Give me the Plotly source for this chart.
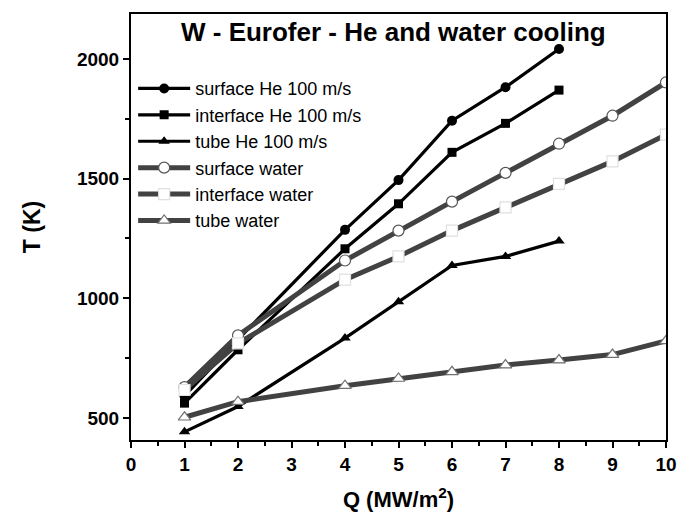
import plotly.graph_objects as go

q_he = [1, 2, 4, 5, 6, 7, 8]
q_water = [1, 2, 4, 5, 6, 7, 8, 9, 10]

surface_he = [592, 828, 1286, 1494, 1742, 1882, 2042]
interface_he = [562, 785, 1207, 1395, 1610, 1731, 1870]
tube_he = [442, 548, 834, 986, 1137, 1175, 1239]
surface_water = [629, 845, 1158, 1283, 1404, 1524, 1646, 1763, 1902]
interface_water = [617, 812, 1078, 1175, 1283, 1380, 1478, 1572, 1684]
tube_water = [503, 568, 635, 665, 693, 721, 742, 765, 822]

names = ["surface He 100 m/s", "interface He 100 m/s", "tube He 100 m/s",
         "surface water", "interface water", "tube water"]

FONT = "Liberation Sans, Arial, sans-serif"
fig = go.Figure()

he_series = [(surface_he, "circle"), (interface_he, "square"), (tube_he, "triangle-up")]
for (vals, sym), nm in zip(he_series, names[:3]):
    fig.add_trace(go.Scatter(
        x=q_he, y=vals, name=nm, mode="lines+markers",
        line=dict(color="black", width=3.2),
        marker=dict(symbol=sym, size=10 if sym != "square" else 9, color="black",
                    line=dict(color="black", width=0))))

water_series = [(surface_water, "circle", "#555555"),
                (interface_water, "square", "#e0e0e0"),
                (tube_water, "triangle-up", "#707070")]
for (vals, sym, mlc), nm in zip(water_series, names[3:]):
    fig.add_trace(go.Scatter(
        x=q_water, y=vals, name=nm, mode="lines+markers",
        line=dict(color="#424242", width=5),
        marker=dict(symbol=sym, size=11, color="white",
                    line=dict(color=mlc, width=1.2))))

axis_common = dict(
    showline=True, linecolor="black", linewidth=2, mirror=True,
    ticks="outside", ticklen=6, tickwidth=2, tickcolor="black",
    showgrid=False, zeroline=False,
    tickfont=dict(family=FONT, size=19, color="black", weight="bold"),
)

fig.update_xaxes(
    range=[0, 10], tickmode="linear", tick0=0, dtick=1,
    minor=dict(ticks="outside", ticklen=4, tickwidth=2, dtick=0.5, tickcolor="black"),
    title=dict(text="Q (MW/m<sup>2</sup>)", font=dict(family=FONT, size=22, color="black", weight="bold"),
               standoff=18),
    **axis_common)
fig.update_yaxes(
    range=[408, 2188], tickmode="linear", tick0=500, dtick=500,
    minor=dict(ticks="outside", ticklen=4, tickwidth=2, dtick=250, tickcolor="black"),
    title=dict(text="T (K)", font=dict(family=FONT, size=23, color="black", weight="bold"),
               standoff=30),
    **axis_common)

fig.add_annotation(
    text="W - Eurofer - He and water cooling", xref="paper", yref="paper",
    x=0.49, y=0.958, xanchor="center", yanchor="middle", showarrow=False,
    font=dict(family=FONT, size=26, color="black", weight="bold"))

fig.update_layout(
    width=689, height=526,
    margin=dict(l=131, r=17, t=13, b=86),
    paper_bgcolor="white", plot_bgcolor="white",
    showlegend=True,
    legend=dict(x=0.004, y=0.868, xanchor="left", yanchor="top",
                bgcolor="rgba(0,0,0,0)", borderwidth=0,
                font=dict(family=FONT, size=18, color="black"),
                tracegroupgap=0, itemwidth=52),
    font=dict(family=FONT, color="black"),
)

fig.write_html("out.html")
